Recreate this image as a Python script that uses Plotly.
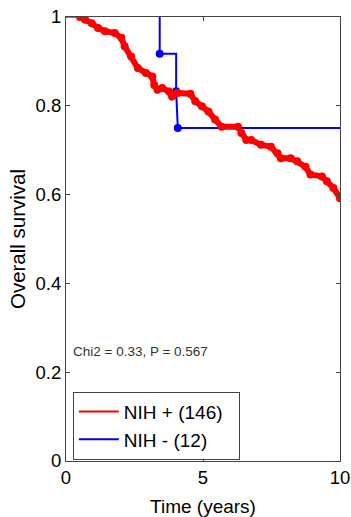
import plotly.graph_objects as go

# NIH + (146): Kaplan-Meier estimate
red_t = [0.0, 0.51, 0.70, 0.94, 1.17, 1.42, 1.78, 2.02, 2.14, 2.38, 2.62, 2.92, 3.15, 3.22,
         3.34, 3.51, 3.76, 3.87, 4.06, 4.54, 4.72, 4.96, 5.20, 5.44, 5.68, 6.28, 6.40,
         6.58, 6.76, 7.12, 7.48, 7.72, 7.84, 8.20, 8.44, 8.74, 8.92, 9.34, 9.52, 9.76, 10.0]
red_s = [1.0, 1.0, 0.994, 0.986, 0.975, 0.968, 0.964, 0.953, 0.934, 0.911, 0.885, 0.874, 0.866, 0.847,
         0.836, 0.840, 0.832, 0.821, 0.829, 0.827, 0.810, 0.799, 0.787, 0.769, 0.753, 0.753, 0.739,
         0.723, 0.723, 0.712, 0.708, 0.693, 0.682, 0.682, 0.675, 0.663, 0.645, 0.641, 0.630, 0.615, 0.592]

# NIH - (12)
blue_t = [3.42, 3.42, 4.02, 4.02, 4.08, 10.0]
blue_s = [1.0, 0.917, 0.917, 0.833, 0.75, 0.75]
blue_event_t = [3.42, 4.02, 4.08]
blue_event_s = [0.917, 0.833, 0.75]
blue_cens_t = [5.92, 6.04, 6.19, 7.0, 7.38, 8.08, 8.2, 8.32, 8.74]
blue_cens_s = [0.75] * 9

labels = ["NIH + (146)", "NIH - (12)"]
stat_text = "Chi2 = 0.33, P = 0.567"
x_ticks = [0, 5, 10]
y_ticks = [0, 0.2, 0.4, 0.6, 0.8, 1]
y_ticktext = ["0", "0.2", "0.4", "0.6", "0.8", "1"]

RED = "#ff0000"
BLUE = "#0000ff"
FONT = "Liberation Sans, Arial, sans-serif"

fig = go.Figure()

# Blue curve
fig.add_trace(go.Scatter(x=blue_t, y=blue_s, mode="lines", line=dict(color=BLUE, width=2),
                         showlegend=False, hoverinfo="skip"))
fig.add_trace(go.Scatter(x=blue_event_t, y=blue_event_s, mode="markers",
                         marker=dict(color=BLUE, size=8, symbol="circle"),
                         showlegend=False, hoverinfo="skip"))
fig.add_trace(go.Scatter(x=blue_cens_t, y=blue_cens_s, mode="markers",
                         marker=dict(color="rgba(0,0,0,0)", size=5, symbol="circle-open",
                                     line=dict(color=BLUE, width=1)),
                         showlegend=False, hoverinfo="skip"))

# Red curve: thin start then thick band of censor marks
fig.add_trace(go.Scatter(x=red_t[:2], y=red_s[:2], mode="lines", line=dict(color=RED, width=1.5),
                         showlegend=False, hoverinfo="skip", cliponaxis=False))
fig.add_trace(go.Scatter(x=red_t[1:], y=red_s[1:], mode="lines+markers",
                         line=dict(color=RED, width=6),
                         marker=dict(color=RED, size=8),
                         showlegend=False, hoverinfo="skip"))

# Legend-only traces
NB = "\u00a0\u00a0"
fig.add_trace(go.Scatter(x=[None], y=[None], mode="lines", line=dict(color=RED, width=2), name=labels[0] + NB))
fig.add_trace(go.Scatter(x=[None], y=[None], mode="lines", line=dict(color=BLUE, width=2), name=labels[1] + NB))

fig.add_annotation(x=0.19, y=0.246, xref="x", yref="y", text=stat_text, showarrow=False,
                   xanchor="left", yanchor="middle", font=dict(family=FONT, size=13.5, color="#333333"))

axis_common = dict(showgrid=False, zeroline=False, showline=True, linecolor="#444444", linewidth=1,
                   mirror="ticks", ticks="inside", ticklen=4, tickcolor="#444444",
                   ticklabeloverflow="allow", automargin=False,
                   tickfont=dict(family=FONT, size=18.5, color="black"))

fig.update_xaxes(range=[0, 10], tickvals=x_ticks, ticktext=[str(v) for v in x_ticks],
                 title=dict(text="Time (years)", font=dict(family=FONT, size=19, color="black"), standoff=12),
                 **axis_common)
fig.update_yaxes(range=[0, 1], tickvals=y_ticks, ticktext=y_ticktext,
                 title=dict(text="Overall survival", font=dict(family=FONT, size=20.5, color="black"), standoff=4),
                 **axis_common)

fig.update_layout(
    width=351, height=517,
    margin=dict(l=66, r=11, t=17, b=56),
    plot_bgcolor="white", paper_bgcolor="white",
    font=dict(family=FONT, size=19, color="black"),
    legend=dict(x=0.025, y=0.156, xanchor="left", yanchor="top",
                bgcolor="white", bordercolor="#444444", borderwidth=1,
                font=dict(family=FONT, size=19, color="black"),
                tracegroupgap=0, itemwidth=40),
)

fig.write_html("out.html")
